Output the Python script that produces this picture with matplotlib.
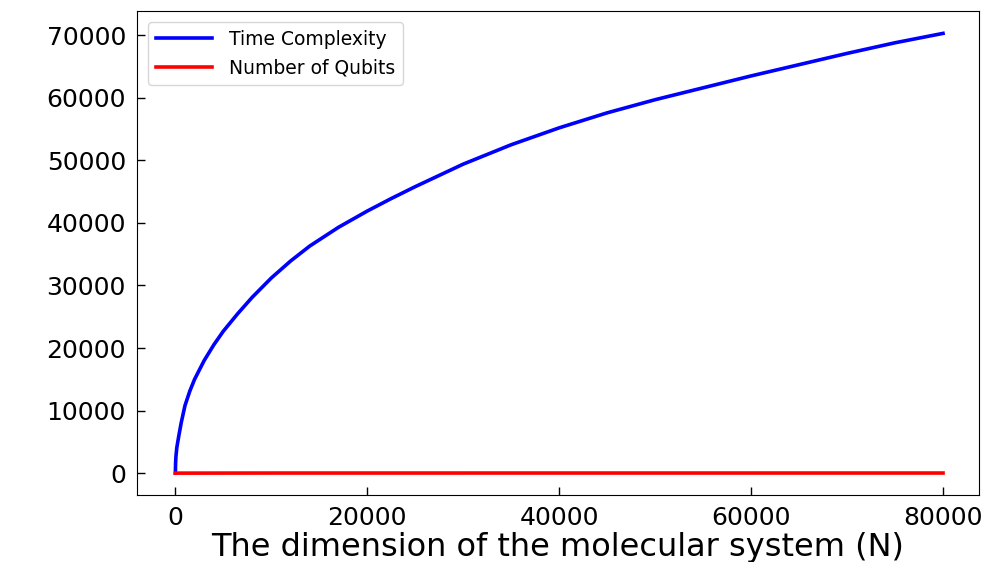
import matplotlib
matplotlib.use("Agg")
import matplotlib.pyplot as plt

# Values
n_time = [0, 20, 60, 150, 350, 600, 1000, 1500, 2000, 3000, 4000, 5000, 6500,
          8000, 10000, 12000, 14000, 17000, 20000, 22500, 25000, 27500, 30000,
          35000, 40000, 45000, 50000, 55000, 60000, 65000, 70000, 75000, 80000]
time_complexity = [0, 1500, 2700, 4100, 5900, 8000, 10800, 13100, 15000, 18000,
                   20500, 22700, 25500, 28100, 31200, 33900, 36300, 39300, 41900,
                   43900, 45800, 47600, 49400, 52500, 55200, 57600, 59700, 61600,
                   63500, 65300, 67100, 68800, 70300]

n_qubits = [0, 10000, 20000, 40000, 60000, 80000]
qubits = [0, 14, 15, 16, 16, 17]

fig = plt.figure(figsize=(10, 5.62), dpi=100)
ax = fig.add_axes([0.137, 0.119, 0.842, 0.861])

ax.plot(n_time, time_complexity, color="blue", lw=2.6, label="Time Complexity")
ax.plot(n_qubits, qubits, color="red", lw=2.6, label="Number of Qubits")

ax.set_xlim(-4000, 83750)
ax.set_ylim(-3516, 73840)
ax.set_xticks([0, 20000, 40000, 60000, 80000])
ax.set_yticks(range(0, 70001, 10000))
ax.tick_params(direction="in", length=6, width=1, labelsize=18, pad=8)
ax.set_xlabel("The dimension of the molecular system (N)", fontsize=23, labelpad=1)

ax.legend(loc="upper left", fontsize=13.5, handlelength=3.0, handletextpad=0.9,
          borderaxespad=0.6)

fig.savefig("out.png", dpi=100)
